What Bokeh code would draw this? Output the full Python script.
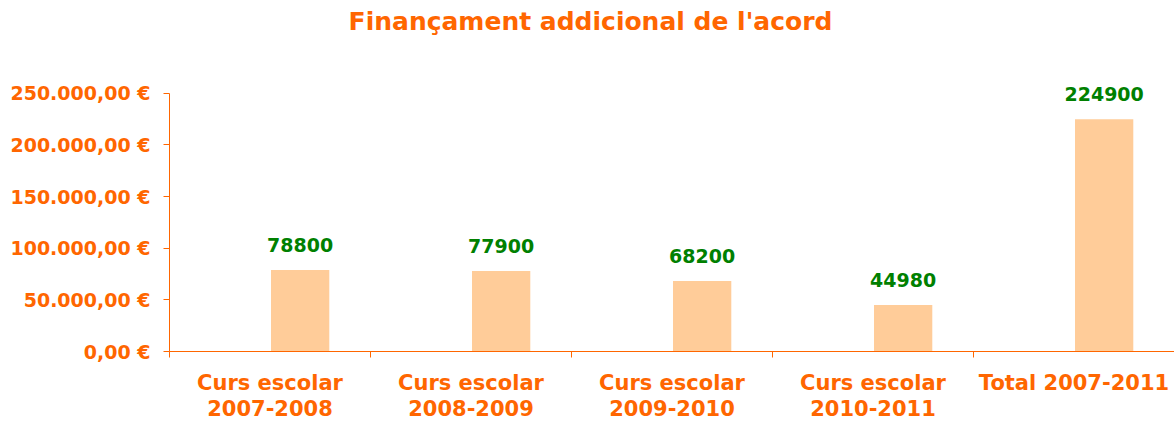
from bokeh.plotting import figure
from bokeh.models import Range1d, FixedTicker, ColumnDataSource, LabelSet, Label
from bokeh.core.properties import value
from bokeh.embed import file_html
from bokeh.resources import INLINE

# ---- data ----
categories = ["Curs escolar\n2007-2008", "Curs escolar\n2008-2009", "Curs escolar\n2009-2010",
              "Curs escolar\n2010-2011", "Total 2007-2011"]
values = [78800, 77900, 68200, 44980, 224900]
value_labels = ["78800", "77900", "68200", "44980", "224900"]
y_ticks = [0, 50000, 100000, 150000, 200000, 250000]
y_tick_labels = ["0,00 €", "50.000,00 €", "100.000,00 €", "150.000,00 €", "200.000,00 €", "250.000,00 €"]
title_text = "Finançament addicional de l'acord"

ORANGE = "#FF6600"
BAR = "#FFCC99"
GREEN = "#008000"
FONT = "DejaVu Sans"

W, H = 1174, 423
LEFT, BOTTOM = 169, 71          # borders (px)
AXIS_TOP_PX = 93                # pixel row of the top tick (250.000)
frame_h = H - BOTTOM
axis_h = frame_h - AXIS_TOP_PX
y_max = y_ticks[-1]
y_end = y_max * frame_h / axis_h   # frame extends above the axis to hold the title

n = len(categories)
centers = [i + 0.5 for i in range(n)]
bar_x = [c + 0.15 for c in centers]

src = ColumnDataSource(dict(x=bar_x, top=values, label=value_labels))

p = figure(width=W, height=H, x_range=Range1d(0, n), y_range=Range1d(0, y_end),
           output_backend="svg", toolbar_location=None,
           min_border_left=LEFT, min_border_right=0, min_border_top=0, min_border_bottom=BOTTOM)

# title: centred at page x ~590, y ~21
title_x = (590 - LEFT) / ((W - LEFT) / n)
title_y = y_max * (frame_h - 21) / axis_h
title = Label(x=title_x, y=title_y, text=title_text,
              text_align="center", text_baseline="middle", text_font=FONT,
              text_font_style="bold", text_font_size="25px", text_color=ORANGE)
p.add_layout(title)

p.vbar(x="x", top="top", width=0.29, bottom=0, source=src, fill_color=BAR, line_color=None)

labels = LabelSet(x="x", y="top", text="label", source=src, text_align="center",
                  text_baseline="alphabetic", y_offset=18, text_font=value(FONT),
                  text_font_style=value("bold"), text_font_size=value("19px"), text_color=value(GREEN))
p.add_layout(labels)

# x axis
xa = p.xaxis[0]
xa.ticker = FixedTicker(ticks=centers, minor_ticks=list(range(n + 1)))
xa.major_label_overrides = {c: lab for c, lab in zip(centers, categories)}
xa.major_tick_line_color = None
xa.major_tick_out = 0
xa.major_tick_in = 0
xa.minor_tick_line_color = ORANGE
xa.minor_tick_out = 6
xa.minor_tick_in = 0
xa.axis_line_color = ORANGE
xa.major_label_standoff = 13
xa.major_label_text_line_height = 1.1
xa.major_label_text_font = FONT
xa.major_label_text_font_style = "bold"
xa.major_label_text_font_size = "21px"
xa.major_label_text_color = ORANGE

# y axis
ya = p.yaxis[0]
ya.ticker = FixedTicker(ticks=y_ticks)
ya.bounds = (0, y_max)
ya.major_label_overrides = {t: lab for t, lab in zip(y_ticks, y_tick_labels)}
ya.minor_tick_line_color = None
ya.major_tick_out = 6
ya.major_tick_in = 0
ya.major_tick_line_color = ORANGE
ya.axis_line_color = ORANGE
ya.major_label_standoff = 13
ya.major_label_text_font = FONT
ya.major_label_text_font_style = "bold"
ya.major_label_text_font_size = "19px"
ya.major_label_text_color = ORANGE

p.xgrid.visible = False
p.ygrid.visible = False
p.outline_line_color = None

open("out.html", "w").write(file_html(p, INLINE))
